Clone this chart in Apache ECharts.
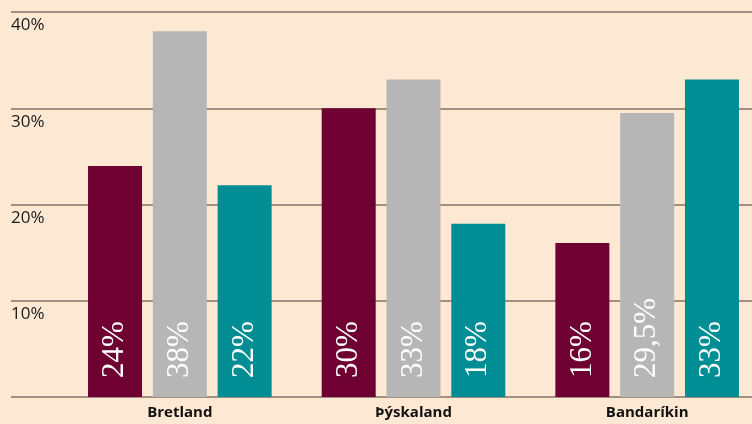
<!DOCTYPE html>
<html>
<head>
<meta charset="utf-8">
<script src="https://cdn.jsdelivr.net/npm/echarts@6/dist/echarts.min.js"></script>
<style>
  html, body { margin: 0; padding: 0; background: #fde8d3; overflow: hidden; }
  /* a bit wider than the window: the last band runs past the right edge */
  #chart { width: 764px; height: 424px; }
</style>
</head>
<body>
<div id="chart"></div>
<script>
const countries = ["Bretland", "Þýskaland", "Bandaríkin"];
const seriesA = [24, 30, 16];
const seriesB = [38, 33, 29.5];
const seriesC = [22, 18, 33];
const yTicks = [0, 10, 20, 30, 40];

const colors = ["#6e0032", "#b6b6b6", "#008e94"];

const chart = echarts.init(document.getElementById("chart"));

const barLabel = {
  show: true,
  position: "insideBottom",
  rotate: 90,
  align: "left",
  verticalAlign: "middle",
  distance: 19,
  color: "#ffffff",
  fontFamily: "Liberation Serif",
  fontSize: 31,
  formatter: (p) => String(p.value).replace(".", ",") + "%",
};

const makeBar = (name, data, color) => ({
  name,
  type: "bar",
  xAxisIndex: 1,
  yAxisIndex: 1,
  data,
  barWidth: 54,
  barGap: "20%",
  itemStyle: { color },
  label: barLabel,
});

const option = {
  backgroundColor: "#fde8d3",
  animation: false,
  grid: [
    // grid lines and y labels, up to the window edge
    { left: 11, right: 12, top: 12, bottom: 27 },
    // bars
    { left: 63, right: 0, top: 12, bottom: 27 },
  ],
  xAxis: [
    {
      type: "category",
      gridIndex: 0,
      data: countries,
      show: false,
    },
    {
      type: "category",
      gridIndex: 1,
      data: countries,
      axisLine: { show: false },
      axisTick: { show: false },
      axisLabel: {
        margin: 8,
        color: "#111",
        fontWeight: "bold",
        fontSize: 15,
        fontFamily: "Open Sans",
      },
    },
  ],
  yAxis: [
    {
      type: "value",
      gridIndex: 0,
      min: yTicks[0],
      max: yTicks[yTicks.length - 1],
      interval: 10,
      axisLine: { show: false },
      axisTick: { show: false },
      splitLine: { lineStyle: { color: "#857264", width: 1.6 } },
      axisLabel: {
        inside: true,
        margin: 0,
        align: "left",
        verticalAlign: "top",
        padding: [5, 0, 0, 0],
        color: "#1a1a1a",
        fontSize: 17,
        fontFamily: "Open Sans",
        formatter: (v) => (v === 0 ? "" : v + "%"),
      },
    },
    {
      type: "value",
      gridIndex: 1,
      min: yTicks[0],
      max: yTicks[yTicks.length - 1],
      interval: 10,
      show: false,
    },
  ],
  series: [
    makeBar("A", seriesA, colors[0]),
    makeBar("B", seriesB, colors[1]),
    makeBar("C", seriesC, colors[2]),
  ],
};

chart.setOption(option);
</script>
</body>
</html>
